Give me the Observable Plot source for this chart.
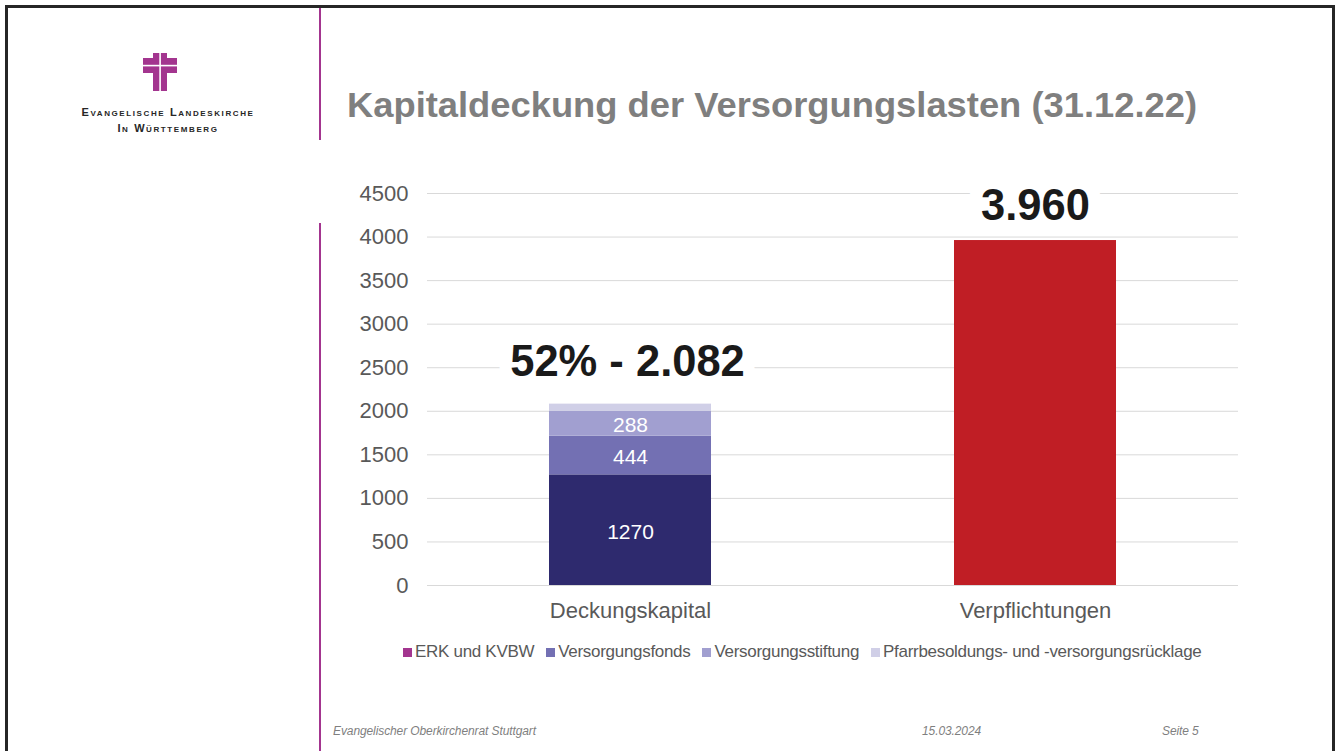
<!DOCTYPE html>
<html>
<head>
<meta charset="utf-8">
<script src="https://cdn.jsdelivr.net/npm/d3@7"></script>
<script src="https://cdn.jsdelivr.net/npm/@observablehq/plot@0.6"></script>
<style>
  html, body { margin: 0; padding: 0; background: #fff; }
  #page { position: relative; width: 1339px; height: 751px; overflow: hidden; background: #fff; font-family: Arial, "Liberation Sans", sans-serif; }
  #deco { position: absolute; left: 0; top: 0; }
  #chart { position: absolute; left: 330px; top: 170px; }
  #legend { position: absolute; left: 403px; top: 642px; display: flex; align-items: center; font-size: 17px; color: #595959; letter-spacing: -0.3px; white-space: nowrap; }
  #legend .item { display: flex; align-items: center; margin-right: 12px; }
  #legend .sw { width: 9px; height: 9px; margin-right: 3px; }
</style>
</head>
<body>
<div id="page">
  <svg id="deco" width="1339" height="751">
    <!-- frame -->
    <path d="M6.5,751 V6.5 H1333.5 V751" fill="none" stroke="#262626" stroke-width="3"/>
    <!-- magenta separators -->
    <line x1="320" y1="8" x2="320" y2="140" stroke="#a3358f" stroke-width="2"/>
    <line x1="320" y1="223" x2="320" y2="751" stroke="#a3358f" stroke-width="2"/>
    <!-- logo cross -->
    <g transform="translate(140,50)">
      <rect x="13" y="3" width="14" height="38" fill="#a3358f"/>
      <rect x="3" y="8" width="34" height="15" fill="#a3358f"/>
      <rect x="19.3" y="3" width="1.6" height="38" fill="#fff"/>
      <rect x="3" y="14.8" width="34" height="1.6" fill="#fff"/>
    </g>
    <text x="168" y="116" text-anchor="middle" font-family="Arial, 'Liberation Sans'" font-size="11" font-weight="bold" fill="#262626" letter-spacing="1.6" style="font-variant: small-caps">Evangelische Landeskirche</text>
    <text x="168" y="132" text-anchor="middle" font-family="Arial, 'Liberation Sans'" font-size="11" font-weight="bold" fill="#262626" letter-spacing="1.6" style="font-variant: small-caps">In Württemberg</text>
    <!-- title -->
    <text x="347" y="117" font-family="Arial, 'Liberation Sans'" font-size="35" font-weight="bold" fill="#7f7f7f" textLength="850" lengthAdjust="spacingAndGlyphs">Kapitaldeckung der Versorgungslasten (31.12.22)</text>
    <!-- footer -->
    <text x="333" y="735" font-family="Arial, 'Liberation Sans'" font-size="12" font-style="italic" fill="#7f7f7f" letter-spacing="-0.1">Evangelischer Oberkirchenrat Stuttgart</text>
    <text x="922" y="735" font-family="Arial, 'Liberation Sans'" font-size="12" font-style="italic" fill="#7f7f7f" letter-spacing="-0.1">15.03.2024</text>
    <text x="1162" y="735" font-family="Arial, 'Liberation Sans'" font-size="12" font-style="italic" fill="#7f7f7f" letter-spacing="-0.1">Seite 5</text>
  </svg>
  <div id="chart"></div>
  <div id="legend"></div>
</div>
<script>
// ---- data ----
const categories = ["Deckungskapital", "Verpflichtungen"];
const seriesNames = ["ERK und KVBW", "Versorgungsfonds", "Versorgungsstiftung", "Pfarrbesoldungs- und -versorgungsrücklage"];
const deckungValues = [1270, 444, 288, 80];
const segmentLabels = ["1270", "444", "288", ""];
const verpflichtungSeries = "Verpflichtungen";
const verpflichtungValue = 3960;
const totalLabels = ["52% - 2.082", "3.960"];
const barColors = ["#2e2a6e", "#7370b3", "#a19fd0", "#d0cfe7"];
const verpflichtungColor = "#c01e25";
const legendColors = ["#a3358f", "#7370b3", "#a19fd0", "#d0cfe7"];
const yTicks = [0, 500, 1000, 1500, 2000, 2500, 3000, 3500, 4000, 4500];

// ---- table built from arrays ----
const rows = seriesNames.map((s, i) => ({cat: categories[0], series: s, value: deckungValues[i], label: segmentLabels[i]}));
rows.push({cat: categories[1], series: verpflichtungSeries, value: verpflichtungValue, label: ""});
const totals = categories.map((c, i) => ({cat: c, total: d3.sum(rows.filter(r => r.cat === c), r => r.value), label: totalLabels[i]}));

const colorDomain = [...seriesNames, verpflichtungSeries];
const colorRange = [...barColors, verpflichtungColor];

const chart = Plot.plot({
  width: 930,
  height: 470,
  marginLeft: 97,
  marginRight: 22,
  marginTop: 23,
  marginBottom: 55,
  style: {fontFamily: "Arial, 'Liberation Sans', sans-serif", fontSize: "21px", color: "#595959", background: "transparent", overflow: "visible"},
  x: {domain: categories, paddingInner: 0.6, paddingOuter: 0.3, label: null},
  y: {domain: [0, 4500], ticks: yTicks, label: null},
  color: {domain: colorDomain, range: colorRange},
  marks: [
    Plot.gridY(yTicks, {stroke: "#d9d9d9", strokeOpacity: 1, strokeWidth: 1}),
    Plot.axisY(yTicks, {tickSize: 0, tickPadding: 19, fontSize: 22, fill: "#595959", label: null, tickFormat: d => String(d)}),
    Plot.axisX({tickSize: 0, tickPadding: 17, fontSize: 22, fill: "#595959", label: null}),
    Plot.barY(rows, Plot.stackY({x: "cat", y: "value", fill: "series", order: null})),
    Plot.text(rows, Plot.stackY({x: "cat", y: "value", text: "label", fill: "white", fontSize: 21, dy: 2, order: null})),
    Plot.text(totals.filter(d => d.cat === categories[0]), {x: "cat", y: "total", text: "label", dx: -3, dy: -42, fontSize: 43.5, fontWeight: "bold", fill: "#1a1a1a", stroke: "white", strokeWidth: 24, strokeLinejoin: "round"}),
    Plot.text(totals.filter(d => d.cat === categories[1]), {x: "cat", y: "total", text: "label", dy: -34, fontSize: 43.5, fontWeight: "bold", fill: "#1a1a1a", stroke: "white", strokeWidth: 26, strokeLinejoin: "round"})
  ]
});
document.getElementById("chart").appendChild(chart);

// ---- legend from arrays ----
const legend = document.getElementById("legend");
seriesNames.forEach((s, i) => {
  const item = document.createElement("div");
  item.className = "item";
  const sw = document.createElement("div");
  sw.className = "sw";
  sw.style.background = legendColors[i];
  const t = document.createElement("span");
  t.textContent = s;
  item.appendChild(sw);
  item.appendChild(t);
  legend.appendChild(item);
});
</script>
</body>
</html>
